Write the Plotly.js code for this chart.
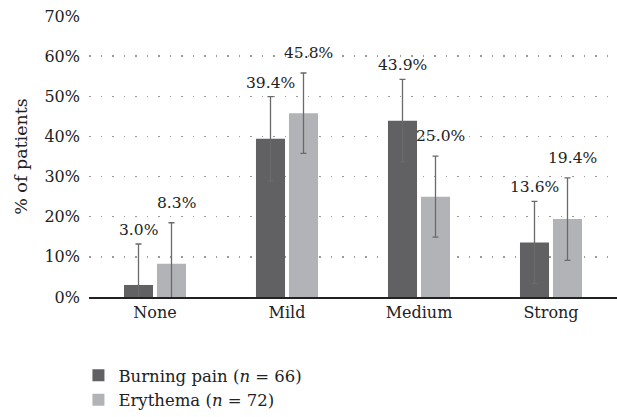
<!DOCTYPE html>
<html><head><meta charset="utf-8">
<script src="https://cdn.plot.ly/plotly-3.0.1.min.js"></script>
<style>body{margin:0;background:#fff}#c{width:617px;height:417px}</style>
</head><body><div id="c"></div>
<script>
const categories = ["None", "Mild", "Medium", "Strong"];
const burningPain = [3.0, 39.4, 43.9, 13.6];
const erythema = [8.3, 45.8, 25.0, 19.4];
const burningErr = [10.2, 10.5, 10.3, 10.2];
const erythemaErr = [10.2, 10.0, 10.1, 10.3];
const seriesNames = ["Burning pain (<i>n</i> = 66)", "Erythema (<i>n</i> = 72)"];

const fam = "DejaVu Serif";
const font = {family: fam, color: "#222", size: 15.5};
const tickFont = {family: fam, color: "#222", size: 16};
const legFont = {family: fam, color: "#222", size: 16.5};
const titleFont = {family: fam, color: "#222", size: 17.5};
const darkC = "#616163", lightC = "#b2b3b6";

function errBar(arr){
  return {type: "data", array: arr, arrayminus: arr, visible: true, color: "#6a6a6a", thickness: 1.3, width: 3};
}
const traces = [
  {type: "bar", x: categories, y: burningPain, name: seriesNames[0], marker: {color: darkC}, error_y: errBar(burningErr), hoverinfo: "none"},
  {type: "bar", x: categories, y: erythema, name: seriesNames[1], marker: {color: lightC}, error_y: errBar(erythemaErr), hoverinfo: "none"}
];

const annotations = [];
categories.forEach((c, i) => {
  annotations.push({x: c, y: burningPain[i] + burningErr[i], xref: "x", yref: "y", text: burningPain[i].toFixed(1) + "%",
    showarrow: false, xshift: -17, yshift: 14, yanchor: "middle", font: font});
  annotations.push({x: c, y: erythema[i] + erythemaErr[i], xref: "x", yref: "y", text: erythema[i].toFixed(1) + "%",
    showarrow: false, xshift: 21, yshift: 20, yanchor: "middle", font: font});
});

const layout = {
  width: 617, height: 417,
  margin: {l: 89, r: 0, t: 16, b: 120},
  paper_bgcolor: "#fff", plot_bgcolor: "#fff",
  font: font,
  barmode: "group", bargap: 0.5, bargroupgap: 0.12,
  showlegend: true,
  legend: {x: -0.02, y: -0.218, xanchor: "left", yanchor: "top", orientation: "v", font: legFont, tracegroupgap: 0, itemwidth: 30, bgcolor: "rgba(0,0,0,0)"},
  xaxis: {showline: true, linecolor: "#222", linewidth: 1.5, ticks: "", showgrid: false, tickfont: tickFont, fixedrange: true},
  yaxis: {range: [0, 70], dtick: 10, ticksuffix: "%", showline: false, zeroline: false, ticks: "",
    showgrid: true, gridcolor: "#9a9a9a", gridwidth: 1.3, griddash: "1.5px,10px",
    tickfont: tickFont, ticklabelstandoff: 8,
    title: {text: "% of patients", font: titleFont, standoff: 12}},
  annotations: annotations
};
Plotly.newPlot("c", traces, layout, {staticPlot: true});
</script></body></html>
